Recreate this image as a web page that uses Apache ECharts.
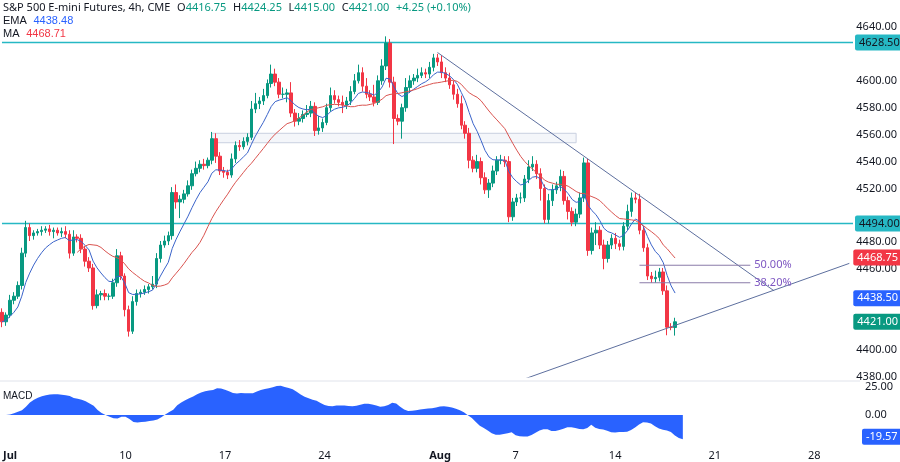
<!DOCTYPE html>
<html><head><meta charset="utf-8">
<script src="https://cdn.jsdelivr.net/npm/echarts@6/dist/echarts.min.js"></script>
<style>html,body{margin:0;padding:0;background:#fff}#c{width:900px;height:462px}</style>
</head><body><div id="c"></div>
<script>
const firstOpen = 4428;
const closes = [4421,4426,4437,4440,4448,4472,4491,4485,4487,4488,
4489,4490,4488,4489,4487,4488,4486,4472,4484,4483,
4475,4466,4461,4433,4441,4442,4440,4440,4450,4470,
4455,4430,4414,4436,4442,4443,4445,4447,4449,4468,
4478,4481,4485,4517,4510,4512,4516,4522,4531,4535,
4538,4537,4541,4557,4544,4533,4532,4530,4542,4552,
4551,4555,4558,4579,4583,4585,4589,4598,4605,4599,
4590,4590,4591,4576,4570,4572,4575,4576,4581,4563,
4565,4569,4580,4589,4586,4584,4582,4585,4592,4600,
4606,4596,4590,4588,4584,4600,4611,4628,4599,4572,
4570,4580,4595,4600,4602,4604,4606,4605,4610,4617,
4614,4606,4602,4597,4590,4583,4567,4561,4541,4535,
4540,4528,4519,4524,4533,4541,4541,4540,4499,4510,
4513,4513,4527,4536,4538,4531,4520,4497,4511,4519,
4522,4529,4511,4503,4495,4501,4513,4539,4474,4487,
4489,4478,4468,4478,4483,4479,4477,4492,4503,4513,
4512,4489,4476,4455,4453,4454,4458,4444,4417,4416.75,4421];
const wickUp = [3,2,4,3,3,4,5,3,2,2, 3,2,3,2,2,3,4,3,5,2, 3,2,3,3,4,2,3,2,3,5,
3,2,3,4,3,2,3,2,6,4, 3,4,3,4,6,3,3,4,3,5, 3,4,2,5,4,3,3,2,4,3, 4,3,3,6,8,3,5,3,7,4,
3,5,3,8,3,4,3,6,4,3, 9,3,3,6,4,3,5,3,4,5, 6,4,6,3,9,4,5,5,3,4, 3,3,7,4,3,5,4,3,4,3,
3,5,4,4,3,4,6,3,4,3, 5,3,4,3,4,3,4,3,4,3, 3,4,3,5,6,3,4,3,5,4, 3,5,4,3,3,4,4,4,3,4,
6,3,4,3,3,4,3,3,5,4, 4,4,3,3,3,5,3,3,4,3,3];
const wickDown = [4,3,2,3,2,3,3,4,3,2, 3,2,3,5,2,3,3,4,2,3, 3,4,3,3,2,4,3,3,2,3,
3,5,4,2,3,3,2,3,2,3, 3,2,3,3,5,12,3,2,3,2, 3,3,2,3,5,3,4,3,2,3, 3,2,3,2,3,4,3,2,3,3,
3,3,6,3,4,3,3,2,3,4, 3,3,2,3,3,3,6,3,3,2, 2,4,3,3,3,2,3,3,4,19, 3,13,3,4,3,3,2,3,3,3,
3,4,3,3,4,3,3,4,6,3, 3,5,3,6,3,3,3,4,4,3, 3,4,3,3,3,4,9,3,3,4, 3,4,3,6,3,3,3,3,4,3,
9,3,8,3,3,4,3,3,3,4, 3,3,3,3,3,3,3,3,6,2,6];
const labelMap = {1:'Jul',30:'10',55:'17',80:'24',109:'Aug',128:'7',153:'14',178:'21',203:'28'};
const totalSlots = 215;
const hLevels = [4628.5, 4494];
const tagValues = {ma:4468.75, ema:4438.50, last:4421.00, macd:-19.57};
const hiddenTicks = [4620, 4500];
const zone = [4554, 4561];
const fib = [{p:4463, t:'50.00%'},{p:4450, t:'38.20%'}];
const downTrend = [[109.5,4621],[195,4444]];
const upTrend = [[129.5,4376.5],[214,4464.4]];

const cats = Array.from({length:totalSlots},(_,i)=>String(i));
const ohlc = closes.map((c,i)=>{const o=i===0?firstOpen:closes[i-1];return [o,c,Math.min(o,c)-wickDown[i],Math.max(o,c)+wickUp[i]];});
function ema(arr,n){const k=2/(n+1);let e=arr[0];return arr.map((v,i)=>{e=i===0?v:v*k+e*(1-k);return +e.toFixed(2);});}
function sma(arr,n){return arr.map((v,i)=>{if(i<n-1)return '-';let s=0;for(let j=i-n+1;j<=i;j++)s+=arr[j];return +(s/n).toFixed(2);});}
const ema9 = ema(closes,9), ma20 = sma(closes,20);
const e12 = ema(closes,12), e26 = ema(closes,26);
const macd = closes.map((_,i)=>+(e12[i]-e26[i]).toFixed(2));

const tag=(v,bg,fg)=>({yAxis:v,lineStyle:{color:bg,width:0,type:'solid'},
  label:{show:true,position:'end',formatter:v.toFixed(2),backgroundColor:bg,color:fg,padding:[3,4,2,4],fontSize:11,distance:2,borderRadius:2}});
const ml=(items)=>({silent:true,symbol:['none','none'],data:items});
const chart = echarts.init(document.getElementById('c'));
const font='"Noto Sans", sans-serif';
chart.setOption({
  animation:false, textStyle:{fontFamily:font},
  grid:[{left:0,right:40,top:0,height:377},{left:0,right:40,top:382,height:58}],
  xAxis:[
    {type:'category',data:cats,gridIndex:0,boundaryGap:true,axisLine:{show:false},axisTick:{show:false},axisLabel:{show:false},splitLine:{show:false}},
    {type:'category',data:cats,gridIndex:1,boundaryGap:true,axisLine:{show:false},axisTick:{show:false},splitLine:{show:false},
     axisLabel:{interval:(i)=>labelMap[i]!==undefined,formatter:(v)=>{const s=labelMap[+v]||'';return (s==='Jul'||s==='Aug')?'{b|'+s+'}':s;},color:'#131722',fontSize:11,margin:10,
       rich:{b:{fontWeight:'bold',fontSize:11,color:'#131722'}}}}
  ],
  yAxis:[
    {type:'value',gridIndex:0,position:'right',min:4380,max:4660,interval:20,splitLine:{show:false},axisLine:{show:false},axisTick:{show:false},
     axisLabel:{color:'#131722',fontSize:11,margin:5,formatter:v=>(v>4640||hiddenTicks.includes(v))?'':v.toFixed(2)}},
    {type:'value',gridIndex:1,position:'right',min:-22.5,max:29.5,splitLine:{show:false},axisTick:{show:false},axisLine:{show:false},
     axisLabel:{color:'#131722',fontSize:11,margin:5,customValues:[25,0],formatter:v=>v.toFixed(2)}}
  ],
  series:[
    ...hLevels.map(v=>({type:'line',data:[[-0.5,v],[totalSlots-0.5,v]],showSymbol:false,z:2,
      lineStyle:{color:'#26b8c4',width:1.5},
      endLabel:{show:true,formatter:v.toFixed(2),backgroundColor:'#26b8c4',color:'#131722',padding:[3,4,2,4],fontSize:11,distance:2,borderRadius:2}})),
    {type:'candlestick',data:ohlc,xAxisIndex:0,yAxisIndex:0,barWidth:3,
     itemStyle:{color:'#089981',color0:'#f23645',borderColor:'#089981',borderColor0:'#f23645',borderWidth:1},
     markArea:{silent:true,itemStyle:{color:'rgba(210,218,235,0.25)',borderColor:'#c9d0e0',borderWidth:1},
       data:[[{xAxis:53,yAxis:zone[1]},{xAxis:145,yAxis:zone[0]}]]},
     markLine:ml([tag(tagValues.ma,'#f23645','#fff'),tag(tagValues.ema,'#2962ff','#fff'),tag(tagValues.last,'#089981','#fff')])},
    {type:'line',data:ema9,showSymbol:false,lineStyle:{color:'#3a63c9',width:1},xAxisIndex:0,yAxisIndex:0,z:3},
    {type:'line',data:ma20,showSymbol:false,lineStyle:{color:'#d9534f',width:1},xAxisIndex:0,yAxisIndex:0,z:3},
    {type:'line',data:downTrend,showSymbol:false,lineStyle:{color:'#5d6f9e',width:1},z:4},
    {type:'line',data:upTrend,showSymbol:false,lineStyle:{color:'#5d6f9e',width:1},z:4},
    ...fib.map(f=>({type:'line',showSymbol:false,lineStyle:{color:'#8a7ba8',width:1},z:4,
      data:[[160.5,f.p],[188.5,f.p]],
      endLabel:{show:true,formatter:f.t,color:'#7e57c2',fontSize:11,distance:4}})),
    {type:'line',data:macd,xAxisIndex:1,yAxisIndex:1,showSymbol:false,lineStyle:{width:0},areaStyle:{color:'#2962ff',opacity:1,origin:0},
     markLine:ml([tag(tagValues.macd,'#2962ff','#fff')])}
  ],
  graphic:[
    {type:'line',shape:{x1:0,y1:381,x2:860,y2:381},style:{stroke:'#e0e3eb',lineWidth:1}},
    {type:'text',left:3,top:2,style:{text:'{t|S&P 500 E-mini Futures, 4h, CME}  {t|O}{g|4416.75}  {t|H}{g|4424.25}  {t|L}{g|4415.00}  {t|C}{g|4421.00}  {g|+4.25 (+0.10%)}',
      rich:{t:{fill:'#131722',fontSize:11,fontFamily:font},g:{fill:'#089981',fontSize:11,fontFamily:font}}}},
    {type:'text',left:3,top:15,style:{text:'{t|EMA}  {b|4438.48}',rich:{t:{fill:'#131722',fontSize:11},b:{fill:'#2962ff',fontSize:11}}}},
    {type:'text',left:3,top:28,style:{text:'{t|MA}  {r|4468.71}',rich:{t:{fill:'#131722',fontSize:11},r:{fill:'#f23645',fontSize:11}}}},
    {type:'text',left:3,top:391,style:{text:'MACD',fill:'#131722',fontSize:10}}
  ]
});
</script></body></html>
